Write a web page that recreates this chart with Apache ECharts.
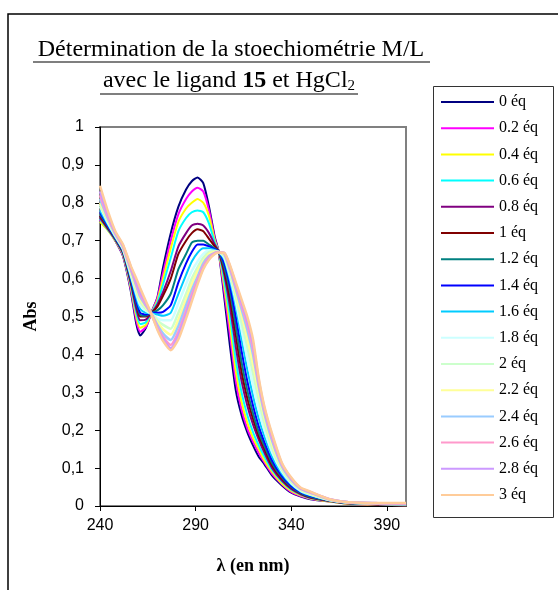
<!DOCTYPE html>
<html><head><meta charset="utf-8">
<script src="https://cdn.jsdelivr.net/npm/echarts@6/dist/echarts.min.js"></script>
<style>html,body{margin:0;padding:0;background:#fff}#c{width:558px;height:590px}</style>
</head><body><div id="c"></div>
<script>
const wavelengths = [240,244,248,252,256,259,261,264,267,270,273,277,281,285,288,291,294,297,300,302,305,308,311,314,317,320,323,326,330,335,340,345,350,360,370,385,400];

const eq0   = [0.765,0.735,0.70,0.66,0.57, 0.48,0.45,0.47,0.512,0.55, 0.63,0.72,0.79,0.835,0.857, 0.867,0.852,0.79,0.71,0.672, 0.55,0.42,0.305,0.24,0.195,0.16,0.13,0.11,0.08,0.055,0.035,0.025,0.018,0.012,0.006,0.003,0.002];
const eq0_2 = [0.755,0.73,0.70,0.662,0.575, 0.49,0.46,0.472,0.512,0.548, 0.615,0.70,0.77,0.81,0.83, 0.84,0.83,0.78,0.705,0.672, 0.565,0.45,0.33,0.255,0.205,0.17,0.14,0.115,0.085,0.058,0.037,0.026,0.019,0.012,0.006,0.003,0.002];
const eq0_4 = [0.75,0.728,0.70,0.664,0.58, 0.50,0.47,0.478,0.511,0.542, 0.60,0.68,0.75,0.785,0.80, 0.81,0.80,0.765,0.70,0.672, 0.58,0.475,0.355,0.275,0.22,0.18,0.15,0.12,0.09,0.06,0.04,0.028,0.02,0.012,0.006,0.003,0.002];
const eq0_6 = [0.758,0.73,0.702,0.666,0.585, 0.51,0.48,0.485,0.511,0.537, 0.585,0.655,0.725,0.76,0.775, 0.78,0.775,0.745,0.695,0.672, 0.595,0.50,0.385,0.30,0.24,0.195,0.16,0.13,0.095,0.065,0.043,0.03,0.021,0.013,0.007,0.004,0.003];
const eq0_8 = [0.76,0.732,0.703,0.668,0.59, 0.52,0.49,0.492,0.51,0.532, 0.565,0.62,0.685,0.72,0.74, 0.745,0.74,0.72,0.69,0.672, 0.61,0.525,0.42,0.33,0.265,0.215,0.175,0.14,0.10,0.068,0.045,0.031,0.022,0.013,0.007,0.004,0.003];
const eq1   = [0.765,0.735,0.705,0.67,0.595, 0.53,0.50,0.50,0.51,0.526, 0.555,0.60,0.665,0.70,0.72, 0.73,0.725,0.705,0.685,0.672, 0.62,0.545,0.45,0.355,0.285,0.23,0.185,0.15,0.107,0.072,0.048,0.033,0.023,0.014,0.007,0.004,0.003];
const eq1_2 = [0.77,0.738,0.706,0.672,0.60, 0.535,0.505,0.502,0.51,0.516, 0.53,0.56,0.625,0.665,0.695, 0.70,0.70,0.69,0.68,0.672, 0.63,0.565,0.475,0.38,0.305,0.245,0.195,0.158,0.113,0.076,0.05,0.034,0.024,0.014,0.008,0.005,0.004];
const eq1_4 = [0.775,0.74,0.708,0.674,0.603, 0.54,0.51,0.505,0.51,0.51, 0.512,0.53,0.59,0.64,0.67, 0.69,0.69,0.685,0.678,0.672, 0.64,0.58,0.50,0.41,0.33,0.265,0.21,0.168,0.12,0.08,0.053,0.036,0.026,0.015,0.008,0.005,0.004];
const eq1_6 = [0.78,0.744,0.71,0.676,0.607, 0.55,0.52,0.51,0.508,0.505, 0.502,0.51,0.56,0.61,0.645, 0.668,0.68,0.68,0.675,0.671, 0.65,0.595,0.525,0.44,0.36,0.29,0.23,0.183,0.13,0.086,0.057,0.038,0.028,0.015,0.008,0.005,0.004];
const eq1_8 = [0.79,0.748,0.712,0.678,0.612, 0.56,0.53,0.515,0.507,0.495, 0.49,0.49,0.535,0.585,0.62, 0.645,0.665,0.675,0.673,0.671, 0.655,0.605,0.54,0.465,0.39,0.32,0.255,0.20,0.142,0.092,0.06,0.04,0.03,0.016,0.009,0.006,0.005];
const eq2   = [0.795,0.752,0.714,0.68,0.616, 0.565,0.54,0.52,0.507,0.49, 0.478,0.468,0.51,0.56,0.60, 0.63,0.655,0.67,0.672,0.67, 0.66,0.612,0.553,0.485,0.42,0.35,0.28,0.218,0.153,0.097,0.063,0.042,0.031,0.016,0.009,0.006,0.005];
const eq2_2 = [0.80,0.756,0.716,0.682,0.62, 0.573,0.545,0.524,0.506,0.485, 0.466,0.452,0.492,0.545,0.585, 0.62,0.645,0.665,0.67,0.67, 0.663,0.618,0.563,0.505,0.445,0.375,0.30,0.233,0.163,0.102,0.066,0.044,0.033,0.017,0.009,0.006,0.005];
const eq2_4 = [0.81,0.76,0.718,0.684,0.625, 0.58,0.552,0.528,0.506,0.478, 0.455,0.438,0.475,0.53,0.57, 0.605,0.64,0.66,0.668,0.67, 0.665,0.623,0.572,0.52,0.465,0.40,0.315,0.243,0.172,0.106,0.069,0.045,0.035,0.017,0.01,0.007,0.006];
const eq2_6 = [0.82,0.765,0.72,0.686,0.628, 0.586,0.558,0.532,0.505,0.472, 0.446,0.425,0.46,0.515,0.558, 0.597,0.633,0.656,0.667,0.67, 0.667,0.628,0.58,0.53,0.48,0.415,0.325,0.252,0.18,0.11,0.071,0.046,0.036,0.018,0.01,0.007,0.006];
const eq2_8 = [0.83,0.772,0.722,0.688,0.632, 0.592,0.565,0.536,0.505,0.468, 0.44,0.416,0.45,0.505,0.548, 0.59,0.628,0.652,0.666,0.669, 0.668,0.632,0.585,0.538,0.49,0.428,0.332,0.257,0.185,0.113,0.073,0.047,0.037,0.018,0.01,0.008,0.007];
const eq3   = [0.845,0.78,0.725,0.69,0.635, 0.60,0.575,0.54,0.505,0.465, 0.435,0.411,0.44,0.495,0.54, 0.585,0.625,0.65,0.665,0.669, 0.668,0.635,0.59,0.545,0.50,0.44,0.338,0.262,0.19,0.115,0.075,0.048,0.038,0.018,0.01,0.008,0.008];

const seriesValues = [eq0,eq0_2,eq0_4,eq0_6,eq0_8,eq1,eq1_2,eq1_4,eq1_6,eq1_8,eq2,eq2_2,eq2_4,eq2_6,eq2_8,eq3];
const seriesNames = ['0 éq','0.2 éq','0.4 éq','0.6 éq','0.8 éq','1 éq','1.2 éq','1.4 éq','1.6 éq','1.8 éq','2 éq','2.2 éq','2.4 éq','2.6 éq','2.8 éq','3 éq'];
const seriesColors = ['#000080','#FF00FF','#FFFF00','#00FFFF','#800080','#800000','#008080','#0000FF','#00CCFF','#CCFFFF','#CCFFCC','#FFFF99','#99CCFF','#FF99CC','#CC99FF','#FFCC99'];
const xTickValues = [240,290,340,390];
const yTickLabels = ['0','0,1','0,2','0,3','0,4','0,5','0,6','0,7','0,8','0,9','1'];
const titleLine1 = 'Détermination de la stoechiométrie M/L';
const titleLine2 = '{a|avec le ligand }{b|15}{a| et HgCl}{s|2}';
const xAxisTitle = 'λ (en nm)';
const yAxisTitle = 'Abs';

const chart = echarts.init(document.getElementById('c'), null, {renderer:'canvas'});
const serif = '"Liberation Serif","Times New Roman",serif';
const sans = '"Liberation Sans",Arial,sans-serif';

const series = seriesValues.map((vals, i) => ({
  name: seriesNames[i],
  type: 'line',
  data: wavelengths.map((w, j) => [w, vals[j]]),
  symbol: 'none',
  smooth: 0.2,
  lineStyle: {color: seriesColors[i], width: i >= 9 ? 2.5 : 2},
  itemStyle: {color: seriesColors[i]},
  emphasis: {disabled: true},
  z: 2 + i
}));

chart.setOption({
  animation: false,
  backgroundColor: '#fff',
  grid: {left: 100, top: 127, width: 306, height: 379, show: true, borderColor: '#808080', borderWidth: 2, backgroundColor: 'transparent'},
  xAxis: {
    type: 'value', min: 240, max: 400,
    name: xAxisTitle, nameLocation: 'middle', nameGap: 51,
    nameTextStyle: {fontFamily: serif, fontWeight: 'bold', fontSize: 18, color: '#000'},
    axisLine: {show: true, lineStyle: {color: '#000', width: 1}},
    axisTick: {show: true, length: 5, customValues: xTickValues, lineStyle: {color: '#000'}},
    axisLabel: {customValues: xTickValues, fontFamily: sans, fontSize: 16, color: '#000', margin: 12},
    splitLine: {show: false}
  },
  yAxis: {
    type: 'value', min: 0, max: 1, interval: 0.1,
    name: yAxisTitle, nameLocation: 'middle', nameGap: 60,
    nameTextStyle: {fontFamily: serif, fontWeight: 'bold', fontSize: 18, color: '#000'},
    axisLine: {show: true, lineStyle: {color: '#000', width: 1}},
    axisTick: {show: true, length: 5, lineStyle: {color: '#000'}},
    axisLabel: {fontFamily: sans, fontSize: 16, color: '#000', margin: 16,
      formatter: (v, idx) => yTickLabels[Math.round(v * 10)]},
    splitLine: {show: false}
  },
  legend: {
    orient: 'vertical', left: 441, top: 94, padding: 0,
    itemWidth: 53, itemHeight: 14, itemGap: 10.2,
    icon: 'path://M0,0H53V2H0Z',
    data: seriesNames,
    selectedMode: false,
    textStyle: {fontFamily: serif, fontSize: 16, color: '#000', lineHeight: 14}
  },
  graphic: [
    {type: 'rect', shape: {x: 8, y: 14, width: 700, height: 700}, style: {fill: 'none', stroke: '#000', lineWidth: 1.5}, z: 0, silent: true},
    {type: 'rect', shape: {x: 433.5, y: 86.5, width: 120, height: 431}, style: {fill: '#fff', stroke: '#333', lineWidth: 1}, z: 1, silent: true},
    {type: 'text', style: {text: titleLine1, x: 231, y: 50, fontFamily: serif, fontSize: 24, fill: '#000', align: 'center', verticalAlign: 'middle'}, z: 5},
    {type: 'line', shape: {x1: 33, y1: 62, x2: 430, y2: 62}, style: {stroke: '#000', lineWidth: 1.2}, z: 5},
    {type: 'text', style: {text: titleLine2, x: 229, y: 81, fill: '#000', align: 'center', verticalAlign: 'middle',
      rich: {a: {fontFamily: serif, fontSize: 24, fill: '#000'}, b: {fontFamily: serif, fontSize: 24, fontWeight: 'bold', fill: '#000'}, s: {fontFamily: serif, fontSize: 15, fill: '#000', padding: [10, 0, 0, 0]}}}, z: 5},
    {type: 'line', shape: {x1: 100, y1: 94, x2: 358, y2: 94}, style: {stroke: '#000', lineWidth: 1.2}, z: 5}
  ],
  series: series
});
</script></body></html>
